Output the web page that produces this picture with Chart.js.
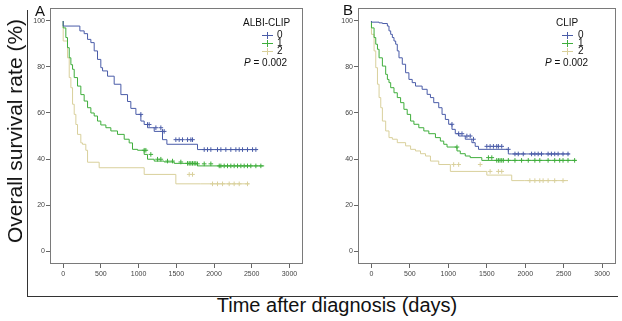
<!DOCTYPE html>
<html><head><meta charset="utf-8">
<script src="https://cdn.jsdelivr.net/npm/chart.js@4/dist/chart.umd.min.js"></script>
<style>
html,body{margin:0;padding:0;background:#fff;}
body{width:622px;height:321px;position:relative;overflow:hidden;font-family:"Liberation Sans",Arial,sans-serif;}
canvas{position:absolute;top:0;}
.t{position:absolute;white-space:nowrap;color:#111;}
.line{position:absolute;background:#333;}
</style></head>
<body>
<div class="line" style="left:27px;top:10px;width:1px;height:287px;"></div>
<div class="line" style="left:27px;top:296px;width:591px;height:1px;"></div>
<canvas id="cA" width="286" height="285" style="left:22px"></canvas>
<canvas id="cB" width="291" height="285" style="left:330px"></canvas>
<div class="t" style="left:35px;top:2px;font-size:15px;">A</div>
<div class="t" style="left:343px;top:1px;font-size:15px;">B</div>
<div id="ytitle" class="t" style="font-size:21px;left:15px;top:131px;transform:translate(-50%,-50%) rotate(-90deg);">Overall survival rate (%)</div>
<div class="t" style="font-size:20px;left:337px;top:305px;transform:translate(-50%,-50%);">Time after diagnosis (days)</div>
<div id="legA"></div><div id="legB"></div>
<script>
// ---- data ----
const groups = ["0", "1", "2"];
const xTicks = [0, 500, 1000, 1500, 2000, 2500, 3000];
const yTicks = [0, 20, 40, 60, 80, 100];
const pText = "0.002";

// Panel A (ALBI-CLIP): event times (days) and survival (%) after each step
const blueA_t = [0, 221, 278, 323, 367, 411, 455, 499, 522, 588, 676, 765, 853, 897, 964, 1030, 1074, 1118, 1207, 1317, 1375, 1781, 1848, 2577];
const blueA_s = [100, 97.8, 95.7, 94.5, 92, 90.6, 87, 83.3, 79.7, 78.3, 76, 72.5, 68, 65, 62, 59.4, 56.5, 55, 53.6, 52, 48.4, 46.4, 44.1, 44.1];
const greenA_t = [0, 35, 57, 80, 102, 124, 146, 190, 234, 278, 323, 367, 411, 455, 499, 566, 632, 720, 809, 875, 919, 986, 1074, 1118, 1207, 1339, 1472, 1649, 1781, 2046, 2665];
const greenA_s = [100, 97, 92.8, 88.4, 84, 81, 79, 75.4, 71.7, 68, 65.2, 62.3, 60, 58.7, 56.5, 54.8, 53.6, 52.2, 50.7, 48.6, 47, 44.2, 43.8, 42, 39.9, 39.1, 38.7, 38.1, 37.9, 37, 37];
const tanA_t = [0, 57, 80, 102, 124, 146, 168, 190, 234, 256, 300, 323, 477, 1074, 1494, 1825, 2466];
const tanA_s = [100, 91.3, 84, 75.4, 71, 63.8, 59.4, 55, 50.7, 47, 46.4, 43.8, 38.6, 36.2, 33.3, 29.2, 29.2];
const blueA_c = [1030, 1118, 1140, 1229, 1295, 1317, 1339, 1494, 1538, 1582, 1649, 1693, 1715, 1870, 1914, 1958, 2046, 2091, 2157, 2223, 2290, 2334, 2378, 2444, 2511, 2555];
const greenA_c = [1074, 1096, 1162, 1251, 1295, 1383, 1450, 1560, 1649, 1671, 1693, 1715, 1737, 1759, 1781, 1870, 1958, 2069, 2091, 2135, 2179, 2223, 2267, 2312, 2356, 2400, 2444, 2488, 2555, 2621];
const tanA_c = [1671, 1715, 1980, 2046, 2113, 2201, 2267, 2334, 2444];

// Panel B (CLIP)
const blueB_t = [0, 99, 142, 207, 228, 250, 272, 293, 315, 336, 358, 401, 444, 487, 530, 573, 659, 724, 767, 810, 875, 918, 961, 1004, 1047, 1090, 1134, 1220, 1306, 1349, 1392, 1780, 1823, 2577];
const blueB_s = [100, 99.5, 99.2, 98.9, 97.8, 95.7, 94.2, 92.8, 91.3, 89.9, 87, 84, 81.2, 77.5, 74.6, 73.2, 71.7, 70.3, 68.1, 66.7, 64.5, 62.3, 59.4, 57.2, 55.1, 52.9, 51, 50, 48.6, 47.1, 45.5, 44.2, 42.2, 42.2];
const greenB_t = [0, 34, 56, 78, 99, 142, 185, 207, 228, 250, 293, 336, 379, 422, 465, 509, 552, 616, 681, 746, 832, 896, 940, 983, 1112, 1155, 1220, 1284, 1435, 1608, 2664];
const greenB_s = [100, 97, 92.8, 89.9, 87.7, 84, 80.4, 76.8, 74.6, 73.2, 71, 68.8, 66.7, 64.5, 61.6, 59.4, 56.5, 55.1, 53.6, 52.2, 51, 49.3, 47.8, 46.4, 45.2, 43.5, 42.3, 41.3, 40.6, 39.4, 39.4];
const tanB_t = [0, 34, 56, 78, 99, 121, 142, 185, 228, 272, 336, 444, 509, 573, 638, 703, 767, 875, 1026, 1500, 1824, 1995, 2556];
const tanB_s = [100, 94.2, 87, 79.7, 72.5, 66.7, 62.3, 56.5, 52.2, 49.3, 48.6, 47.1, 45.7, 44.2, 43.5, 42.3, 41.3, 39.1, 37.6, 34.6, 33, 30.6, 30.6];
const blueB_c = [1047, 1134, 1177, 1241, 1284, 1327, 1500, 1543, 1586, 1629, 1651, 1694, 1780, 1866, 1909, 1974, 2082, 2125, 2168, 2211, 2297, 2340, 2383, 2427, 2491, 2556];
const greenB_c = [1112, 1521, 1565, 1629, 1651, 1672, 1694, 1715, 1780, 1866, 1952, 2039, 2125, 2189, 2297, 2383, 2448, 2491, 2556, 2642];
const tanB_c = [1069, 1134, 1414, 1543, 1651, 1694, 2060, 2125, 2189, 2232, 2297, 2383, 2491];

// ---- styles ----
const colors = ["#4a5ca8", "#3fae3c", "#d9d09c"];

function stepAt(t, ts, ss) {
  let v = ss[0];
  for (let i = 0; i < ts.length; i++) { if (ts[i] <= t) v = ss[i]; }
  return v;
}
function makeSets(curves) {
  const sets = [];
  curves.forEach((c, i) => {
    sets.push({
      type: 'line', data: c.t.map((t, k) => ({x: t, y: c.s[k]})),
      stepped: 'after', borderColor: colors[i], borderWidth: 1, pointRadius: 0,
      fill: false, order: i + 1
    });
    sets.push({
      type: 'scatter', data: c.c.map(t => ({x: t, y: stepAt(t, c.t, c.s)})),
      pointStyle: 'cross', pointRadius: 2.3, borderColor: colors[i], borderWidth: 1,
      showLine: false, order: i + 1
    });
  });
  return sets;
}
const boxPlugin = {
  id: 'box',
  afterDraw(chart) {
    const a = chart.chartArea, ctx = chart.ctx;
    ctx.save(); ctx.strokeStyle = '#7a7a7a'; ctx.lineWidth = 1;
    ctx.strokeRect(Math.round(a.left) + 0.5, Math.round(a.top) + 0.5, Math.round(a.right - a.left) - 1, Math.round(a.bottom - a.top) - 1);
    ctx.restore();
  }
};
function makeChart(id, curves) {
  return new Chart(document.getElementById(id), {
    type: 'scatter',
    data: {datasets: makeSets(curves)},
    plugins: [boxPlugin],
    options: {
      responsive: false, animation: false, devicePixelRatio: 1,
      layout: {padding: {left: 0, right: 5, top: 8, bottom: 0}},
      plugins: {legend: {display: false}, tooltip: {enabled: false}},
      scales: {
        x: {
          type: 'linear', min: -175, max: 3180,
          afterBuildTicks: s => { s.ticks = xTicks.map(v => ({value: v})); },
          afterFit: s => { s.height = 21; },
          grid: {drawOnChartArea: false, drawTicks: true, tickLength: 4, color: '#666'},
          border: {display: false},
          ticks: {font: {size: 7, family: 'Liberation Sans'}, color: '#444', padding: 2, maxRotation: 0,
                  callback: v => String(v)}
        },
        y: {
          type: 'linear', min: -5.65, max: 105.65,
          afterBuildTicks: s => { s.ticks = yTicks.map(v => ({value: v})); },
          afterFit: s => { s.width = 28; },
          grid: {drawOnChartArea: false, drawTicks: true, tickLength: 4, color: '#666'},
          border: {display: false},
          ticks: {font: {size: 7, family: 'Liberation Sans'}, color: '#444', padding: 1,
                  callback: v => String(v)}
        }
      }
    }
  });
}
makeChart('cA', [
  {t: blueA_t, s: blueA_s, c: blueA_c},
  {t: greenA_t, s: greenA_s, c: greenA_c},
  {t: tanA_t, s: tanA_s, c: tanA_c}
]);
makeChart('cB', [
  {t: blueB_t, s: blueB_s, c: blueB_c},
  {t: greenB_t, s: greenB_s, c: greenB_c},
  {t: tanB_t, s: tanB_s, c: tanB_c}
]);

// ---- legends ----
function legend(id, title, titleX, symX, digX, pX) {
  const el = document.getElementById(id);
  let h = `<div class="t" style="left:${titleX}px;top:17px;font-size:10px;">${title}</div>`;
  const rowsY = [34.5, 42.8, 50.7];
  groups.forEach((g, i) => {
    const y = rowsY[i];
    h += `<div style="position:absolute;left:${symX - 5}px;top:${Math.round(y)}px;width:11px;height:1px;background:${colors[i]}"></div>`;
    h += `<div style="position:absolute;left:${symX}px;top:${Math.round(y) - 3}px;width:1px;height:7px;background:${colors[i]}"></div>`;
    h += `<div class="t" style="left:${digX}px;top:${y - 6}px;font-size:10px;line-height:12px;">${g}</div>`;
  });
  h += `<div class="t" style="left:${pX}px;top:57px;font-size:10px;"><i>P</i> = ${pText}</div>`;
  el.innerHTML = h;
}
legend('legA', 'ALBI-CLIP', 243, 267, 277, 244);
legend('legB', 'CLIP', 556, 567, 578, 545);
</script>
</body></html>
